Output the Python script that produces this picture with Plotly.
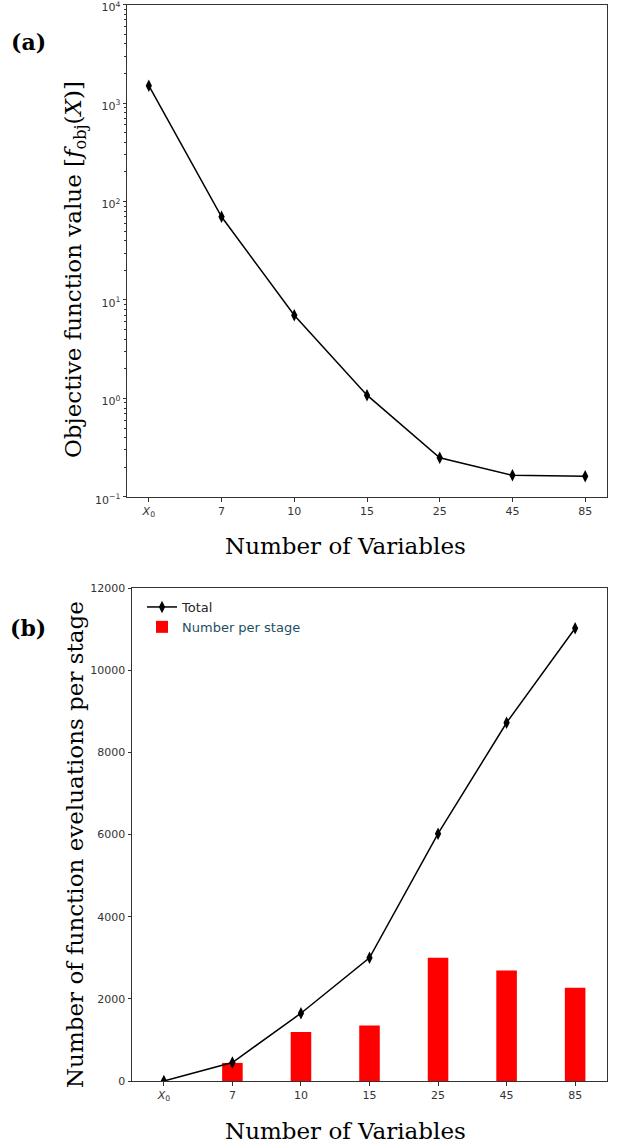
import plotly.graph_objects as go

# ---- data ----
categories = ["<i>X</i><sub>0</sub>", "7", "10", "15", "25", "45", "85"]
obj_values = [1500, 70, 7.0, 1.08, 0.25, 0.166, 0.162]
total_evals = [0, 450, 1650, 3000, 6020, 8720, 11020]
per_stage_evals = [0, 440, 1190, 1350, 3000, 2690, 2270]
log_tick_vals = [0.1, 1, 10, 100, 1000, 10000]
log_tick_text = ["10<sup>−1</sup>", "10<sup>0</sup>", "10<sup>1</sup>",
                 "10<sup>2</sup>", "10<sup>3</sup>", "10<sup>4</sup>"]

W, H = 619, 1144

def px_x(p):
    return p / W

def px_y(p):
    return 1 - p / H

fig = go.Figure()

# top: objective function (log)
fig.add_trace(go.Scatter(
    x=categories, y=obj_values, mode="lines+markers",
    line=dict(color="black", width=1.5),
    marker=dict(symbol="diamond-tall", size=9, color="black"),
    xaxis="x", yaxis="y", showlegend=False))

# bottom: bars + total line
fig.add_trace(go.Bar(
    x=categories, y=per_stage_evals, width=0.3,
    marker=dict(color="#ff0000", line=dict(width=0)),
    name='<span style="color:#1d4f63">Number per stage</span>',
    xaxis="x2", yaxis="y2"))
fig.add_trace(go.Scatter(
    x=categories, y=total_evals, mode="lines+markers",
    line=dict(color="black", width=1.5),
    marker=dict(symbol="diamond-tall", size=9, color="black"),
    name="Total", xaxis="x2", yaxis="y2"))

axis_common = dict(
    showline=True, linecolor="#333333", linewidth=1, mirror=True,
    ticks="outside", ticklen=3.5, tickwidth=0.8, tickcolor="#333333",
    showgrid=False, zeroline=False, automargin=False,
    ticklabeloverflow="allow",
    tickfont=dict(family="DejaVu Sans", size=11, color="#333333"),
)

fig.update_layout(
    width=W, height=H,
    margin=dict(l=0, r=0, t=0, b=0, pad=0, autoexpand=False),
    paper_bgcolor="white", plot_bgcolor="white",
    barmode="overlay",
    xaxis=dict(domain=[px_x(127), px_x(607)], anchor="y",
               type="category", range=[-0.3, 6.3], **axis_common),
    yaxis=dict(domain=[px_y(497), px_y(4.5)], anchor="x",
               type="log", range=[-1.0005, 4.0005], ticklabelshift=3,
               tickmode="array", tickvals=log_tick_vals, ticktext=log_tick_text,
               minor=dict(ticks="outside", ticklen=2, tickcolor="#333333",
                          dtick="D1", showgrid=False),
               **axis_common),
    xaxis2=dict(domain=[px_x(132), px_x(607)], anchor="y2",
                type="category", range=[-0.465, 6.465], **axis_common),
    yaxis2=dict(domain=[px_y(1081), px_y(588)], anchor="x2",
                range=[0, 12000], dtick=2000, tickformat="d", **axis_common),
    legend=dict(x=px_x(142), y=px_y(592), xanchor="left", yanchor="top",
                bgcolor="rgba(255,255,255,0)",
                font=dict(family="DejaVu Sans", size=13, color="#262626"),
                traceorder="reversed", tracegroupgap=2),
)

serif = "DejaVu Serif"
for txt, yy in [("<b>(a)</b>", 42), ("<b>(b)</b>", 628)]:
    fig.add_annotation(text=txt, x=px_x(28), y=px_y(yy), xref="paper", yref="paper",
                       showarrow=False, xanchor="center", yanchor="middle",
                       font=dict(family=serif, size=22, color="black"))

for yy in (546, 1131):
    fig.add_annotation(text="Number of Variables", x=px_x(345), y=px_y(yy),
                       xref="paper", yref="paper", showarrow=False,
                       xanchor="center", yanchor="middle",
                       font=dict(family=serif, size=23, color="black"))
fig.add_annotation(text="Objective function value [<i>f</i><sub>obj</sub>(<i>X</i>)]",
                   x=px_x(75), y=px_y(270), xref="paper", yref="paper",
                   showarrow=False, textangle=-90,
                   xanchor="center", yanchor="middle",
                   font=dict(family=serif, size=23, color="black"))
fig.add_annotation(text="Number of function eveluations per stage",
                   x=px_x(75), y=px_y(845), xref="paper", yref="paper",
                   showarrow=False, textangle=-90,
                   xanchor="center", yanchor="middle",
                   font=dict(family=serif, size=23, color="black"))

fig.write_html("out.html")
